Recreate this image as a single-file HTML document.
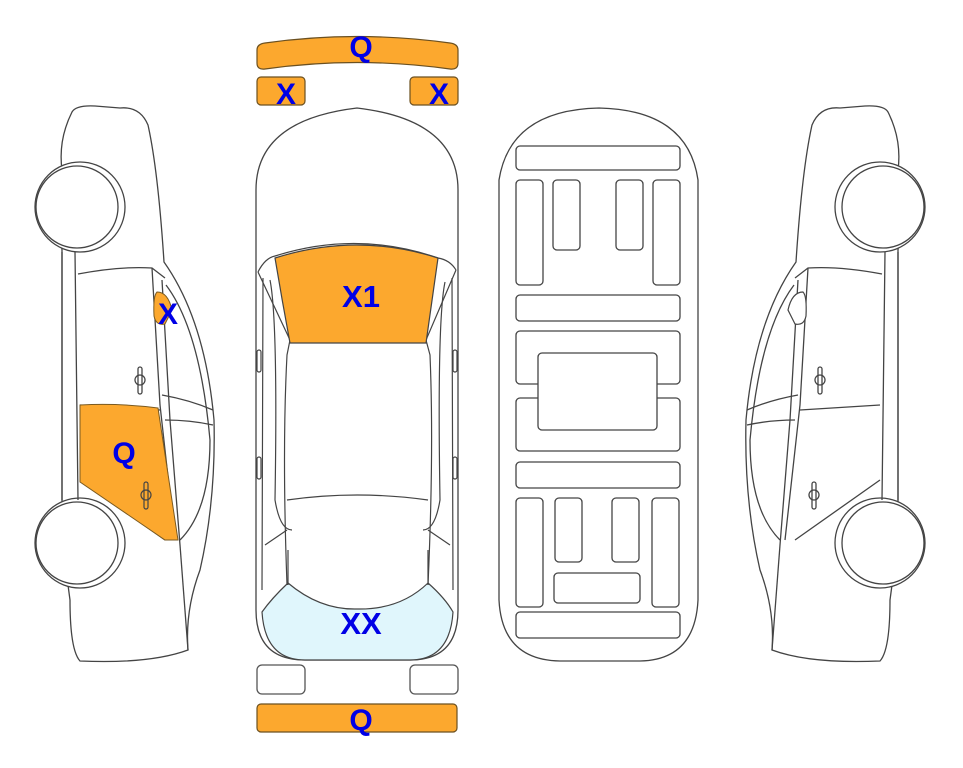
<!DOCTYPE html>
<html><head><meta charset="utf-8"><style>
html,body{margin:0;padding:0;background:#fff;}
svg{display:block;}
text{font-family:"Liberation Sans",sans-serif;font-weight:bold;fill:#0000e6;text-anchor:middle;}
</style></head><body>
<svg width="963" height="768" viewBox="0 0 963 768" xmlns="http://www.w3.org/2000/svg">
<defs>
<g id="side" fill="none" stroke="#444" stroke-width="1.3">
  <path d="M72,112 Q76,105 95,106 L120,108 Q140,106 148,125 Q158,170 164,262 Q205,320 214,420 Q216,500 200,570 Q185,610 188,650 Q150,664 80,661 Q70,650 70,600 L68,585 Q66,560 62,540 L62,250 Q60,230 62,200 L62,170 Q58,140 72,112 Z" fill="#fff"/>
  <circle cx="80" cy="207" r="45" fill="#fff"/>
  <circle cx="77" cy="207" r="41" fill="#fff"/>
  <circle cx="80" cy="543" r="45" fill="#fff"/>
  <circle cx="77" cy="543" r="41" fill="#fff"/>
  <path d="M62,252 L62,500 M75,252 L78,500"/>
  <path d="M78,274 Q120,266 152,268 L165,278"/>
  <path d="M152,268 L160,405 L175,540"/>
  <path d="M162,280 L170,420 L180,545"/>
  <path d="M166,285 Q200,330 210,440 Q210,510 180,540"/>
  <path d="M162,395 Q190,400 213,410 M165,420 Q190,420 213,425"/>
  <path d="M80,405 L160,410"/>
  <path d="M80,480 L165,540"/>
  <path d="M180,545 L188,650"/>
  <ellipse cx="140" cy="380" rx="5" ry="5"/><rect x="138" y="367" width="4" height="27" rx="2"/>
  <ellipse cx="146" cy="495" rx="5" ry="5"/><rect x="144" y="482" width="4" height="27" rx="2"/>
</g>
</defs>

<use href="#side"/>
<path d="M80,405 Q120,403 158,408 L178,540 L165,540 L80,482 Z" fill="#fca82e" stroke="#7a5a20" stroke-width="1"/>
<g fill="none" stroke="#444" stroke-width="1.2"><ellipse cx="146" cy="495" rx="5" ry="5"/><rect x="144" y="482" width="4" height="27" rx="2"/></g>
<path d="M157,292 Q153,296 154,316 Q156,326 165,324 L172,310 Q168,292 157,292 Z" fill="#fca82e" stroke="#7a5a20" stroke-width="1"/>
<text x="168" y="324" font-size="30">X</text>
<text x="124" y="463" font-size="30">Q</text>

<g transform="translate(960,0) scale(-1,1)">
  <use href="#side"/>
  <path d="M157,292 Q153,296 154,316 Q156,326 165,324 L172,310 Q168,292 157,292 Z" fill="#fff" stroke="#444" stroke-width="1.2"/>
</g>

<path d="M257,50 Q257,44 265,43 Q357,30 450,43 Q458,44 458,50 L458,63 Q458,70 450,69 Q357,56 265,69 Q257,70 257,63 Z" fill="#fca82e" stroke="#6b5020" stroke-width="1.2"/>
<text x="361" y="57" font-size="30">Q</text>
<rect x="257" y="77" width="48" height="28" rx="4" fill="#fca82e" stroke="#6b5020" stroke-width="1.2"/>
<rect x="410" y="77" width="48" height="28" rx="4" fill="#fca82e" stroke="#6b5020" stroke-width="1.2"/>
<text x="286" y="104" font-size="30">X</text>
<text x="439" y="104" font-size="30">X</text>

<g fill="none" stroke="#444" stroke-width="1.3">
<path d="M256,190 Q256,120 357,108 Q458,120 458,190 L458,610 Q458,660 410,660 L305,660 Q256,660 256,610 Z" fill="#fff"/>
</g>
<path d="M262,612 Q272,598 288,583 Q320,610 357,609 Q400,610 428,583 Q445,598 453,612 Q450,660 410,660 L305,660 Q265,660 262,612 Z" fill="#e0f6fc" stroke="#444" stroke-width="1.2"/>
<g fill="none" stroke="#444" stroke-width="1.2">
<path d="M258,272 Q265,258 275,256 Q357,230 438,258 Q450,260 456,270"/>
<path d="M258,272 L290,340 L287,355 Q282,450 287,585"/>
<path d="M456,270 L426,340 L430,355 Q434,450 428,585"/>
<path d="M270,280 Q278,320 275,500 Q280,530 292,530"/>
<path d="M445,282 Q437,320 440,500 Q435,530 423,530"/>
<path d="M263,278 L262,590 M452,278 L453,590"/>
<path d="M287,500 Q357,490 428,500"/>
<path d="M287,530 L265,545 M428,530 L450,545"/>
<path d="M288,550 L288,585 M428,550 L428,585"/>
<rect x="257" y="350" width="4" height="22" rx="2"/>
<rect x="453" y="350" width="4" height="22" rx="2"/>
<rect x="257" y="457" width="4" height="22" rx="2"/>
<rect x="453" y="457" width="4" height="22" rx="2"/>
</g>
<path d="M275,258 Q357,232 438,258 L426,343 L290,343 Q282,300 275,258 Z" fill="#fca82e" stroke="#444" stroke-width="1.2"/>
<text x="361" y="307" font-size="31">X1</text>
<text x="361" y="634" font-size="31">XX</text>

<rect x="257" y="665" width="48" height="29" rx="5" fill="#fff" stroke="#555" stroke-width="1.3"/>
<rect x="410" y="665" width="48" height="29" rx="5" fill="#fff" stroke="#555" stroke-width="1.3"/>
<rect x="257" y="704" width="200" height="28" rx="4" fill="#fca82e" stroke="#6b5020" stroke-width="1.2"/>
<text x="361" y="730" font-size="30">Q</text>

<g fill="#fff" stroke="#444" stroke-width="1.3">
<path d="M499,180 Q510,110 599,108 Q688,110 698,180 L698,600 Q695,660 640,661 L560,661 Q502,660 499,600 Z"/>
<rect x="516" y="146" width="164" height="24" rx="4"/>
<rect x="516" y="180" width="27" height="105" rx="4"/>
<rect x="553" y="180" width="27" height="70" rx="4"/>
<rect x="616" y="180" width="27" height="70" rx="4"/>
<rect x="653" y="180" width="27" height="105" rx="4"/>
<rect x="516" y="295" width="164" height="26" rx="4"/>
<rect x="516" y="331" width="164" height="53" rx="4"/>
<rect x="516" y="398" width="164" height="53" rx="4"/>
<rect x="538" y="353" width="119" height="77" rx="4"/>
<rect x="516" y="462" width="164" height="26" rx="4"/>
<rect x="516" y="498" width="27" height="109" rx="4"/>
<rect x="555" y="498" width="27" height="64" rx="4"/>
<rect x="612" y="498" width="27" height="64" rx="4"/>
<rect x="652" y="498" width="27" height="109" rx="4"/>
<rect x="554" y="573" width="86" height="30" rx="4"/>
<rect x="516" y="612" width="164" height="26" rx="4"/>
</g>
</svg>
</body></html>
